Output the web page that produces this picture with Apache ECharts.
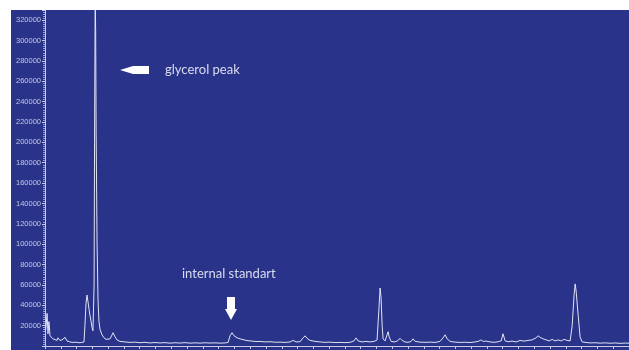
<!DOCTYPE html>
<html>
<head>
<meta charset="utf-8">
<script src="https://cdn.jsdelivr.net/npm/echarts@6/dist/echarts.min.js"></script>
<style>
  html, body { margin: 0; padding: 0; background: #ffffff; }
  #chart { width: 629px; height: 350px; }
</style>
</head>
<body>
<div id="chart"></div>
<script>
// Retention time (min) of each sampled point of the chromatogram trace
const times = [
  0.03, 0.06, 0.13, 0.19, 0.25, 0.32, 0.38, 0.51, 0.63, 0.76, 0.82, 0.95, 1.08, 1.20, 1.27, 1.39,
  1.58, 1.77, 1.96, 2.15, 2.34, 2.47, 2.53, 2.60, 2.66, 2.72, 2.79, 2.85, 2.92, 2.98, 3.04, 3.11,
  3.14, 3.18, 3.21, 3.24, 3.30, 3.36, 3.42, 3.49, 3.61, 3.74, 3.87, 3.99, 4.12, 4.25, 4.31, 4.44,
  4.56, 4.75, 5.07, 5.39, 5.70, 6.02, 6.34, 6.65, 6.97, 7.29, 7.60, 7.92, 8.24, 8.56, 8.87, 9.19,
  9.51, 9.82, 10.14, 10.46, 10.77, 11.09, 11.41, 11.60, 11.72, 11.85, 11.98, 12.17, 12.36, 12.61,
  12.86, 13.12, 13.37, 13.62, 13.94, 14.26, 14.58, 14.89, 15.21, 15.53, 15.72, 15.91, 16.16, 16.35,
  16.48, 16.60, 16.79, 17.11, 17.43, 17.74, 18.06, 18.38, 18.69, 19.01, 19.33, 19.58, 19.71, 19.84,
  20.09, 20.34, 20.60, 20.85, 21.04, 21.17, 21.23, 21.29, 21.36, 21.42, 21.55, 21.67, 21.74, 21.80,
  21.93, 22.12, 22.31, 22.50, 22.62, 22.81, 23.00, 23.19, 23.32, 23.45, 23.76, 24.08, 24.40, 24.71,
  25.03, 25.22, 25.35, 25.48, 25.67, 25.98, 26.30, 26.62, 26.93, 27.25, 27.44, 27.63, 27.76, 27.95,
  28.20, 28.45, 28.71, 28.90, 29.02, 29.15, 29.34, 29.59, 29.85, 30.10, 30.35, 30.61, 30.86, 31.11,
  31.24, 31.37, 31.56, 31.75, 31.94, 32.13, 32.32, 32.51, 32.70, 32.89, 33.08, 33.27, 33.40, 33.52,
  33.59, 33.65, 33.78, 33.90, 34.03, 34.28, 34.54, 34.85, 35.17, 35.49, 35.80, 36.12, 36.44, 36.76,
  37.00
];

// Detector response (counts) at each retention time above
const intensity = [
  15000, 18000, 32000, 12000, 24000, 10000, 9000, 7000, 6500, 5500, 8000, 5500, 6000, 5000, 8500, 5000,
  4000, 3500, 3800, 3200, 3500, 4000, 20000, 42000, 50000, 44000, 36000, 30000, 24000, 18000, 15000, 60000,
  200000, 345000, 310000, 210000, 100000, 45000, 24000, 16000, 11000, 8000, 6500, 6000, 7000, 11000, 13000, 9000,
  6000, 4500, 4000, 3500, 3800, 3200, 3600, 3000, 3400, 3000, 3300, 2800, 3200, 2900, 3300, 2800,
  3100, 2800, 3200, 2900, 3100, 2800, 3000, 3500, 10000, 13000, 10000, 8000, 7000, 6000,
  5200, 4800, 4400, 4500, 4000, 4200, 3700, 3800, 3500, 4000, 5500, 4000, 4200, 8000,
  10000, 7500, 5500, 4500, 4000, 3600, 3800, 3400, 3500, 3300, 3600, 5000, 8000, 5000,
  4000, 4500, 4000, 4500, 6000, 40000, 57000, 48000, 20000, 7000, 5000, 11000, 14000, 9000,
  4500, 4000, 4800, 7500, 5500, 4000, 3600, 4500, 7000, 4500, 3800, 3600, 3800, 3500,
  4500, 8000, 11000, 7000, 4500, 3800, 3500, 3700, 3400, 4000, 4500, 6000, 4500, 4800,
  4000, 3600, 4200, 5000, 12000, 5000, 4200, 4800, 4000, 5500, 4800, 5500, 6000, 8000,
  10000, 8500, 7000, 6000, 5000, 6500, 5000, 6000, 5000, 6500, 5500, 5000, 20000, 50000,
  61000, 54000, 30000, 9000, 4000, 3500, 3000, 3200, 2800, 3100, 2700, 3000, 2600, 2900,
  2700
];

// Peak annotations
const glycerolLabel = 'glycerol peak';
const standardLabel = 'internal standart';

const trace = times.map((t, i) => [t, intensity[i]]);

const axisColor = '#c9cde3';
const plotBlue = '#29338a';

const chart = echarts.init(document.getElementById('chart'), null, { renderer: 'canvas' });

chart.setOption({
  backgroundColor: '#ffffff',
  animation: false,
  grid: { left: 45, right: 0, top: 10, bottom: 4, containLabel: false },
  xAxis: {
    type: 'value',
    min: 0,
    max: 37,
    interval: 1,
    axisLine: { show: true, lineStyle: { color: axisColor, width: 1 } },
    axisTick: { show: true, inside: false, length: 3, lineStyle: { color: axisColor } },
    axisLabel: { show: false },
    splitLine: { show: false }
  },
  yAxis: {
    type: 'value',
    min: 0,
    max: 330000,
    interval: 20000,
    axisLine: { show: true, lineStyle: { color: axisColor, width: 1 } },
    axisTick: { show: true, length: 3, lineStyle: { color: axisColor } },
    minorTick: { show: true, splitNumber: 10, length: 2, lineStyle: { color: axisColor, opacity: 0.7 } },
    axisLabel: {
      color: '#c4c8de',
      fontSize: 7.5,
      fontFamily: 'Liberation Sans, Arial, sans-serif',
      margin: 4,
      showMinLabel: false,
      showMaxLabel: false,
      formatter: (v) => String(v)
    },
    splitLine: { show: false }
  },
  graphic: [
    {
      type: 'rect',
      z: -10,
      silent: true,
      shape: { x: 11, y: 10, width: 618, height: 340 },
      style: { fill: plotBlue }
    },
    {
      // left-pointing arrow towards the glycerol peak
      type: 'polygon',
      z: 10,
      shape: { points: [[120, 70], [133, 66], [149, 66], [149, 74], [133, 74]] },
      style: { fill: '#ffffff' }
    },
    {
      type: 'text',
      z: 10,
      left: 165,
      top: 63,
      style: {
        text: glycerolLabel,
        fill: '#d9dcee',
        font: '13px Lato, "Open Sans", sans-serif'
      }
    },
    {
      type: 'text',
      z: 10,
      left: 182,
      top: 267,
      style: {
        text: standardLabel,
        fill: '#d9dcee',
        font: '13px Lato, "Open Sans", sans-serif'
      }
    },
    {
      // downward arrow towards the internal standard peak
      type: 'polygon',
      z: 10,
      shape: { points: [[227, 297], [235, 297], [235, 309], [237, 309], [231, 320], [225, 309], [227, 309]] },
      style: { fill: '#ffffff' }
    }
  ],
  series: [
    {
      type: 'line',
      data: trace,
      showSymbol: false,
      clip: true,
      lineStyle: { color: '#e2e4f2', width: 1 },
      emphasis: { disabled: true }
    }
  ]
});
</script>
</body>
</html>
